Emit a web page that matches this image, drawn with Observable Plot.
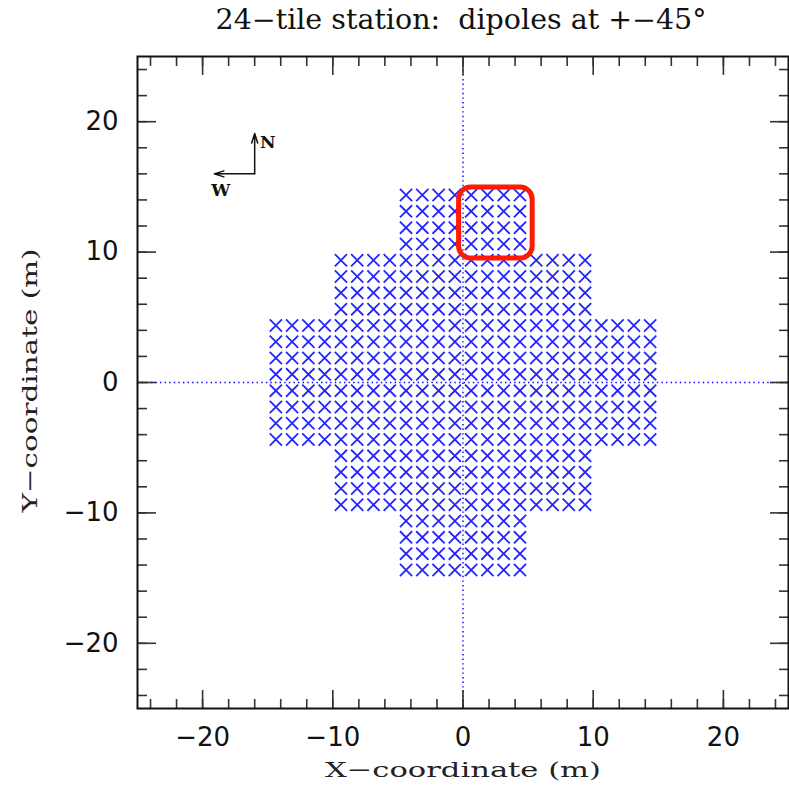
<!DOCTYPE html>
<html><head><meta charset="utf-8">
<script src="https://cdn.jsdelivr.net/npm/d3@7"></script>
<script src="https://cdn.jsdelivr.net/npm/@observablehq/plot@0.6"></script>
<style>body{margin:0;background:#fff} svg{display:block}</style>
</head><body><div id="chart"></div>
<script>
const titleText = "24\u2212tile station:  dipoles at +\u221245\u00b0";
const xLabelText = "X\u2212coordinate (m)";
const yLabelText = "Y\u2212coordinate (m)";

// lower-left corners (m) of the 24 tiles (5 m x 5 m)
const tileX = [-5, 0,
               -10, -5, 0, 5,
               -15, -10, -5, 0, 5, 10,
               -15, -10, -5, 0, 5, 10,
               -10, -5, 0, 5,
               -5, 0];
const tileY = [10, 10,
               5, 5, 5, 5,
               0, 0, 0, 0, 0, 0,
               -5, -5, -5, -5, -5, -5,
               -10, -10, -10, -10,
               -15, -15];
// dipole positions inside a tile, 4 x 4 grid (m from tile corner)
const dipoleOffsets = [0.625, 1.875, 3.125, 4.375];

// highlighted tile (red box)
const highlightTile = [{x1: -0.3, x2: 5.35, y1: 9.5, y2: 14.95}];

// compass
const compassArrows = [
  {x1: -16, y1: 16, x2: -16, y2: 19.1},
  {x1: -16, y1: 16, x2: -19.1, y2: 16}
];
const compassLabels = [
  {x: -15.0, y: 18.4, t: "N"},
  {x: -18.6, y: 14.7, t: "W"}
];

const majorTicks = [-20, -10, 0, 10, 20];
const minorTicks = [-24, -22, -20, -18, -16, -14, -12, -10, -8, -6, -4, -2, 0,
                    2, 4, 6, 8, 10, 12, 14, 16, 18, 20, 22, 24];

const dipoles = [];
tileX.forEach((tx, i) => {
  const ty = tileY[i];
  for (const ox of dipoleOffsets) for (const oy of dipoleOffsets)
    dipoles.push({x: tx + ox, y: ty + oy});
});

const tickColor = "#333";
const sans = "DejaVu Sans";
const serif = "DejaVu Serif";

const chart = Plot.plot({
  width: 789,
  height: 793,
  marginLeft: 137,
  marginRight: 1,
  marginTop: 56,
  marginBottom: 85,
  x: {domain: [-25, 25]},
  y: {domain: [-25, 25]},
  style: {background: "#fff"},
  marks: [
    Plot.ruleX([0], {stroke: "#0000ff", strokeWidth: 1.4, strokeDasharray: "1.4,3.2"}),
    Plot.ruleY([0], {stroke: "#0000ff", strokeWidth: 1.4, strokeDasharray: "1.4,3.2"}),
    Plot.dot(dipoles, {x: "x", y: "y", symbol: "times", r: 5.6, stroke: "#2424ff", strokeWidth: 1.8}),
    Plot.rect(highlightTile, {x1: "x1", x2: "x2", y1: "y1", y2: "y2", fill: "none", stroke: "#ff1a00", strokeWidth: 5, rx: 12}),
    Plot.arrow(compassArrows, {x1: "x1", y1: "y1", x2: "x2", y2: "y2", stroke: "#111", strokeWidth: 1.5, headLength: 10, headAngle: 35}),
    Plot.text(compassLabels, {x: "x", y: "y", text: "t", fontFamily: serif, fontWeight: "bold", fontSize: 17, fill: "#111"}),
    // ticks (inward)
    Plot.axisX(minorTicks, {anchor: "bottom", tickSize: -9, text: null, stroke: tickColor, strokeWidth: 1.6}),
    Plot.axisX(minorTicks, {anchor: "top", tickSize: -9, text: null, stroke: tickColor, strokeWidth: 1.6}),
    Plot.axisX(majorTicks, {anchor: "bottom", tickSize: -18, text: null, stroke: tickColor, strokeWidth: 1.6}),
    Plot.axisX(majorTicks, {anchor: "top", tickSize: -18, text: null, stroke: tickColor, strokeWidth: 1.6}),
    Plot.axisY(minorTicks, {anchor: "left", tickSize: -10, text: null, stroke: tickColor, strokeWidth: 1.6}),
    Plot.axisY(minorTicks, {anchor: "right", tickSize: -10, text: null, stroke: tickColor, strokeWidth: 1.6}),
    Plot.axisY(majorTicks, {anchor: "left", tickSize: -19, text: null, stroke: tickColor, strokeWidth: 1.6}),
    Plot.axisY(majorTicks, {anchor: "right", tickSize: -19, text: null, stroke: tickColor, strokeWidth: 1.6}),
    // tick labels
    Plot.axisX(majorTicks, {anchor: "bottom", tickSize: 0, tickPadding: 19, label: null, fontSize: 26, fontFamily: sans, fill: "#111"}),
    Plot.axisY(majorTicks, {anchor: "left", tickSize: 0, tickPadding: 19, label: null, fontSize: 26, fontFamily: sans, fill: "#111"}),
    Plot.frame({stroke: "#111", strokeWidth: 2}),
    // axis titles and title
    Plot.text([xLabelText], {frameAnchor: "bottom", dy: 62, textAnchor: "middle", lineAnchor: "middle", fontSize: 21, fontFamily: serif, fill: "#222"}),
    Plot.text([yLabelText], {frameAnchor: "left", dx: -107, dy: -2, rotate: -90, textAnchor: "middle", lineAnchor: "middle", fontSize: 21, fontFamily: serif, fill: "#222"}),
    Plot.text([titleText], {frameAnchor: "top", dy: -36, dx: -2, textAnchor: "middle", lineAnchor: "middle", fontSize: 27, fontFamily: serif, fill: "#111"})
  ]
});
document.getElementById("chart").appendChild(chart);
// stretch the wide plotter-style lettering to the reference widths
const widths = new Map([[xLabelText, 276], [yLabelText, 264], [titleText, 491]]);
chart.querySelectorAll("text").forEach(t => {
  const w = widths.get(t.textContent);
  if (w) { t.setAttribute("textLength", w); t.setAttribute("lengthAdjust", "spacingAndGlyphs"); }
});
</script>
</body></html>
